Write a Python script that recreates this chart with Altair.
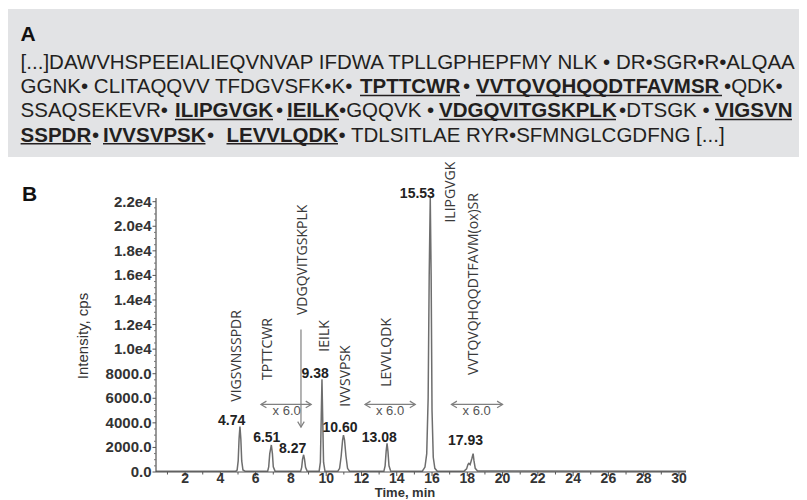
import altair as alt
import pandas as pd

# ---------------- chromatogram (time [min], intensity [cps])
trace_time = [0.35, 4.88,
              4.95, 5.01, 5.06, 5.11, 5.16, 5.21, 5.28, 5.40,
              6.68, 6.74, 6.80, 6.89, 6.95, 7.00, 7.10,
              8.55, 8.61, 8.66, 8.72, 8.77, 8.83, 8.92,
              9.60, 9.67, 9.72, 9.76, 9.80, 9.85, 9.93,
              10.66, 10.76, 10.85, 10.93, 10.98, 11.04, 11.12, 11.21, 11.32,
              13.27, 13.34, 13.40, 13.45, 13.50, 13.56, 13.66,
              15.45, 15.60, 15.70, 15.78, 15.84, 15.90, 15.95, 16.00, 16.07, 16.16, 16.30,
              17.82, 17.96, 18.04, 18.09, 18.16, 18.26, 18.33, 18.38, 18.45, 18.58,
              30.4]
trace_int = [70, 70,
             160, 900, 2700, 3700, 2700, 900, 160, 70,
             70, 420, 1500, 2200, 1500, 420, 70,
             70, 380, 1050, 1400, 1050, 380, 70,
             70, 800, 4500, 7550, 4500, 800, 70,
             70, 300, 1300, 2600, 3000, 2600, 1300, 300, 70,
             70, 500, 1700, 2330, 1700, 500, 70,
             70, 400, 1500, 6000, 16000, 22300, 16000, 5000, 1200, 300, 70,
             70, 250, 620, 700, 600, 1100, 1500, 900, 300, 80,
             70]

peak_labels = ["4.74", "6.51", "8.27", "9.38", "10.60", "13.08", "15.53", "17.93"]
peak_label_time = [4.64, 6.63, 8.10, 9.37, 10.78, 13.01, 15.17, 17.90]
peak_label_int = [4175, 2745, 1850, 7980, 3560, 2800, 22620, 2550]

peptides = ["VIGSVNSSPDR", "TPTTCWR", "VDGQVITGSKPLK", "IEILK", "IVVSVPSK",
            "LEVVLQDK", "ILIPGVGK", "VVTQVQHQQDTFAVM(ox)SR"]
peptide_time = [4.93, 6.72, 8.70, 9.93, 11.11, 13.43, 17.08, 18.38]
peptide_int = [5720, 7490, 12780, 9790, 5320, 6940, 20300, 7900]

zoom_start = [6.30, 12.20, 17.10]
zoom_end = [9.15, 15.05, 20.00]
zoom_int = [5500, 5500, 5500]
zoom_text = ["x 6.0", "x 6.0", "x 6.0"]
zoom_text_time = [7.76, 13.62, 18.53]
zoom_text_int = [4950, 4950, 4950]

drop_time = [8.57]
drop_from = [11600]
drop_to = [3650]

x_ticks = list(range(2, 31, 2))
x_tick_labels = [str(v) for v in x_ticks]
x_minor = list(range(1, 31, 2))
y_ticks = list(range(0, 22001, 2000))
y_tick_labels = ["0.0", "2000.0", "4000.0", "6000.0", "8000.0", "1.0e4", "1.2e4",
                 "1.4e4", "1.6e4", "1.8e4", "2.0e4", "2.2e4"]
y_minor = [v for v in range(500, 22300, 500) if v % 2000 != 0]
x_title = "Time, min"
y_title = "Intensity, cps"

# ---------------- panel A: protein sequence (bold = detected peptides)
seq_line = [1, 2, 2, 2, 2, 2, 3, 3, 3, 3, 3, 3, 3, 3, 4, 4, 4, 4, 4, 4]
seq_text = ["[...]DAWVHSPEEIALIEQVNVAP IFDWA TPLLGPHEPFMY NLK \u2022 DR\u2022SGR\u2022R\u2022ALQAA",
            "GGNK\u2022 CLITAQQVV TFDGVSFK\u2022K\u2022", "TPTTCWR", "\u2022", "VVTQVQHQQDTFAVMSR", "\u2022QDK\u2022",
            "SSAQSEKEVR\u2022", "ILIPGVGK", "\u2022", "IEILK", "\u2022GQQVK \u2022", "VDGQVITGSKPLK",
            "\u2022DTSGK \u2022", "VIGSVN",
            "SSPDR", "\u2022", "IVVSVPSK", "\u2022", "LEVVLQDK",
            "\u2022 TDLSITLAE RYR\u2022SFMNGLCGDFNG [...]"]
seq_bold = [False, False, True, False, True, False, False, True, False, True, False, True,
            False, True, True, False, True, False, True, False]

# layout of panel A pieces, in the picture's pixel frame (converted below)
seq_x = [20.6, 20.6, 360, 463, 476, 724, 20.6, 175, 276, 287, 339, 439, 619, 715,
         20.6, 92, 103, 207, 226.5, 338.5]
seq_x_end = [None, None, 460, None, 722, None, None, 273, None, 339, None, 616, None, 792,
             91, None, 205.5, None, 338, None]
line_base = {1: 69.0, 2: 93.3, 3: 117.3, 4: 141.6}

W, H = 530, 274
X0, X1 = 0.35, 30.4
Y1 = 22300
FONT = "Liberation Sans"
AX = "#555555"
LBL = "#333333"
XS = alt.Scale(domain=[X0, X1], nice=False, zero=False)
YS = alt.Scale(domain=[0, Y1], nice=False)

# pixel frame -> data frame (plot area spans px 156..686, py 198..472)
KX = W / (X1 - X0)
KY = H / Y1


def to_t(f):
    return f"(datum.{f} - 156) / {KX} + {X0}"


def to_v(f):
    return f"(472 - datum.{f}) / {KY}"


def tx(f="time"):
    return alt.X(f"{f}:Q", scale=XS, axis=None)


def ty(f="intensity"):
    return alt.Y(f"{f}:Q", scale=YS, axis=None)


seg_df = pd.DataFrame({
    "text": seq_text, "bold": seq_bold,
    "px": seq_x, "py": [line_base[l] for l in seq_line],
})
ul_df = pd.DataFrame({
    "px": [seq_x[i] for i in range(len(seq_text)) if seq_bold[i]],
    "px2": [seq_x_end[i] for i in range(len(seq_text)) if seq_bold[i]],
    "py": [line_base[seq_line[i]] + 2.2 for i in range(len(seq_text)) if seq_bold[i]],
})
box_df = pd.DataFrame({"px": [8], "px2": [799], "py": [9], "py2": [157]})
panel_df = pd.DataFrame({"text": ["A", "B"], "px": [20.6, 22.0], "py": [41.2, 201.0]})

box = alt.Chart(box_df).transform_calculate(
    time=to_t("px"), time2=to_t("px2"), intensity=to_v("py"), intensity2=to_v("py2")
).mark_rect(color="#e2e3e5").encode(x=tx(), x2="time2:Q", y=ty(), y2="intensity2:Q")

seq_normal = alt.Chart(seg_df).transform_filter("!datum.bold").transform_calculate(
    time=to_t("px"), intensity=to_v("py")
).mark_text(font=FONT, fontSize=20.5, align="left", baseline="alphabetic",
            color="#231f20").encode(x=tx(), y=ty(), text="text:N")
seq_boldt = alt.Chart(seg_df).transform_filter("datum.bold").transform_calculate(
    time=to_t("px"), intensity=to_v("py")
).mark_text(font=FONT, fontSize=20.5, fontWeight="bold", align="left",
            baseline="alphabetic", color="#231f20").encode(x=tx(), y=ty(), text="text:N")
underline = alt.Chart(ul_df).transform_calculate(
    time=to_t("px"), time2=to_t("px2"), intensity=to_v("py")
).mark_rule(color="#231f20", strokeWidth=1.6).encode(x=tx(), x2="time2:Q", y=ty())
panel_lbl = alt.Chart(panel_df).transform_calculate(
    time=to_t("px"), intensity=to_v("py")
).mark_text(font=FONT, fontSize=21, fontWeight="bold", align="left",
            baseline="alphabetic", color="#111111").encode(x=tx(), y=ty(), text="text:N")

# ---------------- axes drawn from the tick arrays through the scales
x_dom = alt.Chart(pd.DataFrame({"time": [X0], "time2": [X1]})).mark_rule(
    color=AX, strokeWidth=1.2).encode(x=tx(), x2="time2:Q", y=alt.value(H))
y_dom = alt.Chart(pd.DataFrame({"intensity": [0], "intensity2": [Y1]})).mark_rule(
    color=AX, strokeWidth=1.2).encode(y=ty(), y2="intensity2:Q", x=alt.value(0))
x_tk = alt.Chart(pd.DataFrame({"time": x_ticks})).mark_rule(
    color=AX, strokeWidth=1).encode(x=tx(), y=alt.value(H), y2=alt.value(H + 4))
x_mn = alt.Chart(pd.DataFrame({"time": x_minor})).mark_rule(
    color=AX, strokeWidth=1).encode(x=tx(), y=alt.value(H), y2=alt.value(H + 2.5))
y_tk = alt.Chart(pd.DataFrame({"intensity": y_ticks})).mark_rule(
    color=AX, strokeWidth=1).encode(y=ty(), x=alt.value(0), x2=alt.value(-3.5))
y_mn = alt.Chart(pd.DataFrame({"intensity": y_minor})).mark_rule(
    color="#777777", strokeWidth=1).encode(y=ty(), x=alt.value(0), x2=alt.value(-2))
x_lb = alt.Chart(pd.DataFrame({"time": x_ticks, "label": x_tick_labels})).mark_text(
    font=FONT, fontSize=14, fontWeight="bold", color=LBL, baseline="middle"
).encode(x=tx(), y=alt.value(H + 6.5), text="label:N")
y_lb = alt.Chart(pd.DataFrame({"intensity": y_ticks, "label": y_tick_labels})).mark_text(
    font=FONT, fontSize=15, fontWeight="bold", color=LBL, baseline="middle", align="right"
).encode(y=ty(), x=alt.value(-4.5), text="label:N")
x_tt = alt.Chart(pd.DataFrame({"label": [x_title]})).mark_text(
    font=FONT, fontSize=13, fontWeight="bold", color=LBL, baseline="middle"
).encode(x=alt.value(249), y=alt.value(H + 21), text="label:N")
y_tt = alt.Chart(pd.DataFrame({"label": [y_title]})).mark_text(
    font=FONT, fontSize=15, color=LBL, baseline="middle", angle=270
).encode(x=alt.value(-73), y=alt.value(138), text="label:N")

# ---------------- chromatogram layers
trace_df = pd.DataFrame({"time": trace_time, "intensity": trace_int})
line = alt.Chart(trace_df).mark_line(color="#6e6e6e", strokeWidth=1.5).encode(
    x=tx(), y=ty())

pk_df = pd.DataFrame({"time": peak_label_time, "intensity": peak_label_int, "label": peak_labels})
pk_text = alt.Chart(pk_df).mark_text(
    font=FONT, fontSize=14, fontWeight="bold", color="#222222", baseline="middle"
).encode(x=tx(), y=ty(), text="label:N")

pep_df = pd.DataFrame({"time": peptide_time, "intensity": peptide_int, "label": peptides})
pep_text = alt.Chart(pep_df).mark_text(
    font="Open Sans", fontSize=14, color="#3a3a3a", angle=270, align="left",
    baseline="middle"
).encode(x=tx(), y=ty(), text="label:N")

zoom_df = pd.DataFrame({"time": zoom_start, "time2": zoom_end, "intensity": zoom_int})
zoom_rule = alt.Chart(zoom_df).mark_rule(color="#808080", strokeWidth=1.2).encode(
    x=tx(), x2="time2:Q", y=ty())
head_l = alt.Chart(zoom_df).mark_point(
    shape="M2,-1.2L0,0L2,1.2", size=30, filled=False, color="#808080", strokeWidth=1.2,
    opacity=1).encode(x=tx(), y=ty())
head_r = alt.Chart(zoom_df).mark_point(
    shape="M-2,-1.2L0,0L-2,1.2", size=30, filled=False, color="#808080", strokeWidth=1.2,
    opacity=1).encode(x=tx("time2"), y=ty())
zt_df = pd.DataFrame({"time": zoom_text_time, "intensity": zoom_text_int, "label": zoom_text})
zoom_lbl = alt.Chart(zt_df).mark_text(
    font=FONT, fontSize=13, color="#555555", baseline="middle"
).encode(x=tx(), y=ty(), text="label:N")

drop_df = pd.DataFrame({"time": drop_time, "intensity": drop_from, "intensity2": drop_to})
drop_rule = alt.Chart(drop_df).mark_rule(color="#808080", strokeWidth=1.2).encode(
    x=tx(), y=ty(), y2="intensity2:Q")
drop_head = alt.Chart(drop_df).mark_point(
    shape="M-1.2,-2L0,0L1.2,-2", size=30, filled=False, color="#808080", strokeWidth=1.2,
    opacity=1).encode(x=tx(), y=ty("intensity2"))

chart = alt.layer(
    box, seq_normal, seq_boldt, underline, panel_lbl,
    line, x_dom, y_dom, x_tk, x_mn, y_tk, y_mn, x_lb, y_lb, x_tt, y_tt,
    zoom_rule, head_l, head_r, drop_rule, drop_head,
    zoom_lbl, pk_text, pep_text,
).properties(
    width=W, height=H,
    autosize=alt.AutoSizeParams(type="none"),
    padding={"left": 148, "top": 190, "right": 113, "bottom": 28},
    background="white",
).configure_view(stroke=None)

chart.save("out.html", embed_options={"renderer": "svg", "actions": False})
